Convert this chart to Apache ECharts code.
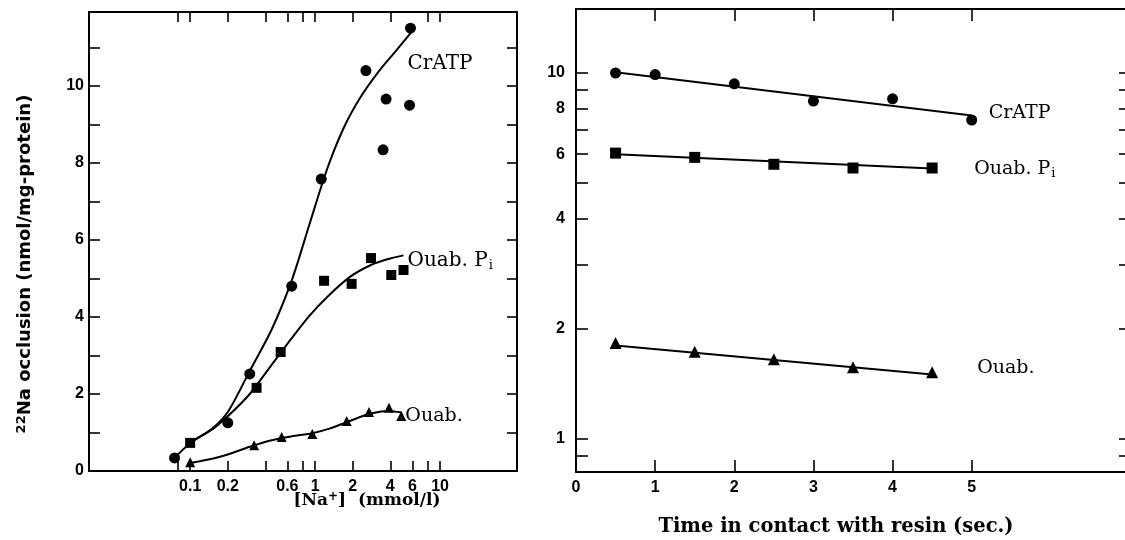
<!DOCTYPE html>
<html><head><meta charset="utf-8">
<script src="https://cdn.jsdelivr.net/npm/echarts@6/dist/echarts.min.js"></script>
<style>html,body{margin:0;padding:0;background:#fff}#c{width:1125px;height:540px}</style>
</head><body><div id="c"></div>
<script>
// ---- Left panel: 22Na occlusion vs [Na+] (log axis) ----
const crAtpPts   = [[0.075,0.34],[0.2,1.25],[0.3,2.52],[0.65,4.8],[1.12,7.58],[2.55,10.4],[3.5,8.34],[3.7,9.66],[5.7,9.5],[5.8,11.5]];
const ouabPiPts  = [[0.1,0.73],[0.34,2.16],[0.53,3.09],[1.18,4.94],[1.96,4.86],[2.8,5.53],[4.07,5.09],[5.1,5.22]];
const ouabPts    = [[0.1,0.23],[0.325,0.67],[0.54,0.88],[0.95,0.96],[1.79,1.3],[2.7,1.53],[3.9,1.64],[4.9,1.43]];
const crAtpCurve  = [[0.075,0.34],[0.1,0.72],[0.15,1.1],[0.2,1.53],[0.3,2.6],[0.45,3.68],[0.65,4.95],[0.9,6.4],[1.25,7.85],[1.7,8.92],[2.3,9.7],[3.2,10.36],[4.3,10.86],[5.9,11.4]];
const ouabPiCurve = [[0.1,0.75],[0.15,1.08],[0.2,1.42],[0.3,2.0],[0.45,2.76],[0.65,3.45],[0.9,4.03],[1.25,4.52],[1.9,5.04],[2.8,5.35],[4.0,5.52],[5.1,5.6]];
const ouabCurve   = [[0.1,0.21],[0.15,0.32],[0.2,0.43],[0.3,0.63],[0.45,0.8],[0.65,0.9],[0.95,0.98],[1.3,1.1],[1.8,1.27],[2.7,1.48],[3.9,1.56],[4.9,1.52]];
const naTickValues    = [0.08,0.1,0.2,0.4,0.6,0.8,1,2,4,6,8,10];
const naTopTickValues = [0.08,0.1,0.2,0.4,0.6,0.8,1,2,4,8,10];
const naLabelValues   = [0.1,0.2,0.6,1,2,4,6,10];
const occTickValues   = [0,1,2,3,4,5,6,7,8,9,10,11];
const occLabelValues  = [0,2,4,6,8,10];
const naRange  = [0.0155, 41.3];
const occRange = [0, 11.92];

// ---- Right panel: occlusion vs time in contact with resin (log y) ----
const timeCr   = [0.5,1,2,3,4,5];
const crVals   = [10.0,9.9,9.34,8.38,8.5,7.44];
const timeP    = [0.5,1.5,2.5,3.5,4.5];
const piVals   = [6.04,5.88,5.63,5.5,5.5];
const ouabVals = [1.83,1.73,1.65,1.57,1.52];
const crFit    = [[0.5,10.05],[5,7.65]];
const piFit    = [[0.5,6.0],[4.5,5.48]];
const ouabFit  = [[0.5,1.8],[4.5,1.5]];
const timeTickValues  = [1,2,3,4,5];
const timeLabelValues = [0,1,2,3,4,5];
const logYTickValues  = [0.9,1,2,3,4,5,6,7,8,9,10];
const logYLabelValues = [1,2,4,6,8,10];
const timeRange = [0, 7];
const logYRange = [0.812, 14.96];

const L = v => Math.log10(v);
const fromL = v => String(+Math.pow(10, v).toPrecision(2));
const logPts = arr => arr.map(p => [L(p[0]), p[1]]);
const logYPts = (xs, ys) => xs.map((x, i) => [x, L(ys[i])]);
const logY = arr => arr.map(p => [p[0], L(p[1])]);

const SERIF = '"DejaVu Serif", serif';
const tickFont = {color:'#000', fontFamily:'"Liberation Sans", Arial, sans-serif', fontWeight:'bold', fontSize:16};
const mkRich = fs => ({a:{fontFamily:SERIF, fontSize:fs, color:'#000'},
        s:{fontFamily:SERIF, fontSize:Math.round(fs*0.66), color:'#000', padding:[11,0,0,1]}});
const axLine = {show:true, onZero:false, lineStyle:{color:'#000', width:2}};
const tick = (vals, len) => ({show:true, inside:true, length:len, customValues:vals, lineStyle:{color:'#000', width:1.6}});

function lineSeries(x, y, data, label, off, smooth, fs) {
  return {type:'line', xAxisIndex:x, yAxisIndex:y, data:data, smooth:smooth,
    showSymbol:false, silent:true, lineStyle:{color:'#000', width:2}, z:3,
    endLabel:{show:!!label, formatter:label, offset:off, align:'left', verticalAlign:'middle', distance:4,
      color:'#000', fontFamily:SERIF, fontSize:fs, rich:mkRich(fs)}};
}
function scat(x, y, data, sym, size) {
  return {type:'scatter', xAxisIndex:x, yAxisIndex:y, data:data, symbol:sym, symbolSize:size, silent:true,
    itemStyle:{color:'#000', opacity:1}, z:4};
}

const chart = echarts.init(document.getElementById('c'), null, {renderer:'canvas'});
chart.setOption({
  animation:false,
  backgroundColor:'#fff',
  grid:[
    {left:89, top:12, width:428, height:459, outerBoundsMode:'none', containLabel:false},
    {left:576, top:9, width:554, height:463, outerBoundsMode:'none', containLabel:false}
  ],
  xAxis:[
    {gridIndex:0, type:'value', position:'bottom', min:L(naRange[0]), max:L(naRange[1]), axisLine:axLine,
      axisTick:tick(naTickValues.map(L),10), splitLine:{show:false},
      axisLabel:Object.assign({customValues:naLabelValues.map(L), margin:8, formatter:fromL}, tickFont)},
    {gridIndex:0, type:'value', position:'top', min:L(naRange[0]), max:L(naRange[1]), axisLine:axLine,
      axisTick:tick(naTopTickValues.map(L),10), splitLine:{show:false}, axisLabel:{show:false}},
    {gridIndex:1, type:'value', position:'bottom', min:timeRange[0], max:timeRange[1], axisLine:axLine,
      axisTick:tick(timeTickValues,12), splitLine:{show:false},
      axisLabel:Object.assign({customValues:timeLabelValues, margin:8}, tickFont)},
    {gridIndex:1, type:'value', position:'top', min:timeRange[0], max:timeRange[1], axisLine:axLine,
      axisTick:tick(timeTickValues,12), splitLine:{show:false}, axisLabel:{show:false}}
  ],
  yAxis:[
    {gridIndex:0, type:'value', position:'left', min:occRange[0], max:occRange[1], axisLine:axLine,
      axisTick:tick(occTickValues,11), splitLine:{show:false},
      axisLabel:Object.assign({customValues:occLabelValues, margin:5}, tickFont)},
    {gridIndex:0, type:'value', position:'right', min:occRange[0], max:occRange[1], axisLine:axLine,
      axisTick:tick(occTickValues.slice(1),10), splitLine:{show:false}, axisLabel:{show:false}},
    {gridIndex:1, type:'value', position:'left', min:L(logYRange[0]), max:L(logYRange[1]), axisLine:axLine,
      axisTick:tick(logYTickValues.map(L),12), splitLine:{show:false},
      axisLabel:Object.assign({customValues:logYLabelValues.map(L), margin:11, formatter:fromL}, tickFont)},
    {gridIndex:1, type:'value', position:'right', min:L(logYRange[0]), max:L(logYRange[1]), axisLine:axLine,
      axisTick:tick(logYTickValues.map(L),11), splitLine:{show:false}, axisLabel:{show:false}}
  ],
  series:[
    lineSeries(0,0, logPts(crAtpCurve), 'CrATP', [-8,32], 0.3, 20),
    lineSeries(0,0, logPts(ouabPiCurve), '{a|Ouab. P}{s|i}', [0,5], 0.3, 20),
    lineSeries(0,0, logPts(ouabCurve), 'Ouab.', [0,4], 0.3, 19),
    scat(0,0, logPts(crAtpPts), 'circle', 11),
    scat(0,0, logPts(ouabPiPts), 'rect', 10),
    scat(0,0, logPts(ouabPts), 'triangle', 10),
    lineSeries(2,2, logY(crFit), 'CrATP', [13,-3], false, 19),
    lineSeries(2,2, logY(piFit), '{a|Ouab. P}{s|i}', [38,0], false, 19),
    lineSeries(2,2, logY(ouabFit), 'Ouab.', [41,-6], false, 19),
    scat(2,2, logYPts(timeCr, crVals), 'circle', 11),
    scat(2,2, logYPts(timeP, piVals), 'rect', 11),
    scat(2,2, logYPts(timeP, ouabVals), 'triangle', 12)
  ],
  graphic:[
    {type:'text', x:25, y:264, rotation:Math.PI/2, style:{
      text:'{sup|22}{t|Na occlusion (nmol/mg-protein)}', align:'center', verticalAlign:'middle',
      rich:{sup:{fontFamily:'"DejaVu Sans", sans-serif', fontWeight:'bold', fontSize:13, fill:'#000', padding:[0,0,7,0]},
            t:{fontFamily:'"DejaVu Sans", sans-serif', fontWeight:'bold', fontSize:18, fill:'#000'}}}},
    {type:'text', x:367, y:501, style:{
      text:'{t|[Na}{sup|+}{t|]  (mmol/l)}', align:'center', verticalAlign:'middle',
      rich:{t:{fontFamily:SERIF, fontWeight:'bold', fontSize:17, fill:'#000'},
            sup:{fontFamily:SERIF, fontWeight:'bold', fontSize:12, fill:'#000', padding:[0,0,8,0]}}}},
    {type:'text', x:836, y:527, style:{
      text:'Time in contact with resin (sec.)', align:'center', verticalAlign:'middle',
      fontFamily:SERIF, fontWeight:'bold', fontSize:19.5, fill:'#000'}}
  ]
});
</script></body></html>
